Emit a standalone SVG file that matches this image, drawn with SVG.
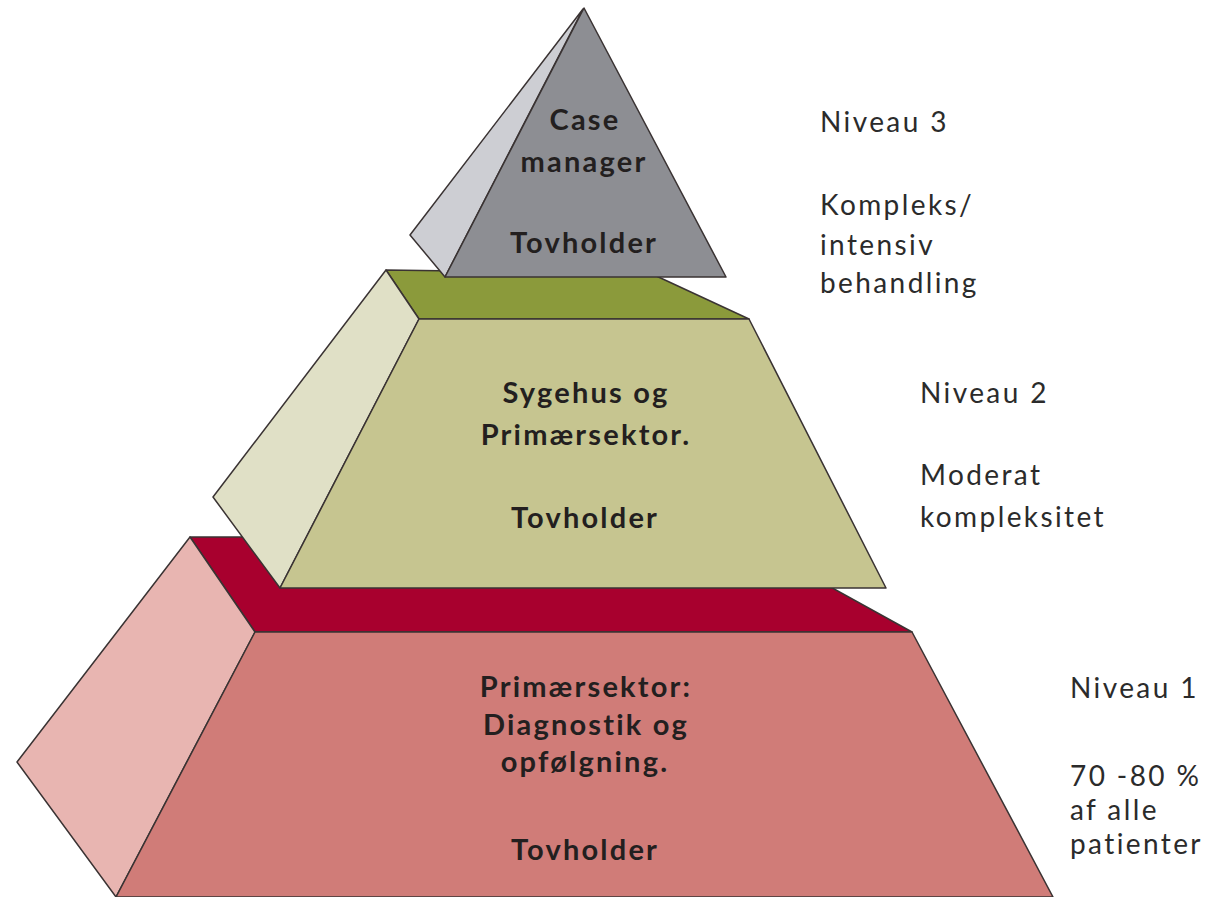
<svg xmlns="http://www.w3.org/2000/svg" width="1211" height="897" viewBox="0 0 1211 897">
<style>
.edge{stroke:#3a3333;stroke-width:1.5;stroke-linejoin:round}
.lbl{font-family:Lato,"Open Sans","Liberation Sans",sans-serif;font-weight:bold;font-size:29px;fill:#231f1f;text-anchor:middle;letter-spacing:2.2px}
.side{font-family:Lato,"Open Sans","Liberation Sans",sans-serif;font-size:28px;fill:#2b2b2b;letter-spacing:2.4px}
</style>
<rect width="1211" height="897" fill="#ffffff"/>
<g id="level1">
<polygon class="edge" points="190,537 740,537 912,632 255,632" fill="#a8002e"/>
<polygon class="edge" points="190,537 255,632 116,897 17,762" fill="#e8b5b1"/>
<polygon class="edge" points="255,632 912,632 1053,897 116,897" fill="#d07c78"/>
<text class="lbl" x="586" y="697">Primærsektor:</text>
<text class="lbl" x="586" y="735">Diagnostik og</text>
<text class="lbl" x="585" y="772">opfølgning.</text>
<text class="lbl" x="585" y="860">Tovholder</text>
</g>
<g id="level2">
<polygon class="edge" points="386,270 652,274 749,319 419,319" fill="#8b9a3b"/>
<polygon class="edge" points="386,270 419,319 280,588 213,497" fill="#e0e0c6"/>
<polygon class="edge" points="419,319 749,319 886,588 280,588" fill="#c6c590"/>
<text class="lbl" x="586" y="403">Sygehus og</text>
<text class="lbl" x="586" y="445">Primærsektor.</text>
<text class="lbl" x="585" y="528">Tovholder</text>
</g>
<g id="level3">
<polygon class="edge" points="583,9 410,235 445,277" fill="#cdced3"/>
<polygon class="edge" points="584,8 726,277 445,277" fill="#8d8e93"/>
<text class="lbl" x="585" y="130">Case</text>
<text class="lbl" x="584" y="172">manager</text>
<text class="lbl" x="584" y="253">Tovholder</text>
</g>
<g id="label3">
<text class="side" x="820" y="132">Niveau 3</text>
<text class="side" x="820" y="215">Kompleks/</text>
<text class="side" x="820" y="255">intensiv</text>
<text class="side" x="820" y="293">behandling</text>
</g>
<g id="label2">
<text class="side" x="920" y="403">Niveau 2</text>
<text class="side" x="920" y="485">Moderat</text>
<text class="side" x="920" y="527">kompleksitet</text>
</g>
<g id="label1">
<text class="side" x="1070" y="698">Niveau 1</text>
<text class="side" x="1070" y="786">70 -80 %</text>
<text class="side" x="1070" y="820">af alle</text>
<text class="side" x="1070" y="854">patienter</text>
</g>
<g id="connectors"/>
</svg>
